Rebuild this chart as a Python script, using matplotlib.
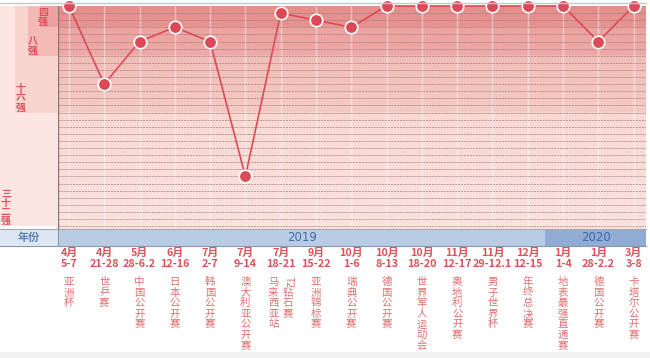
import numpy as np
import matplotlib
matplotlib.use("Agg")
import matplotlib.pyplot as plt
from matplotlib import transforms
from matplotlib.colors import to_rgb
from matplotlib.patches import Rectangle

plt.rcParams['font.family'] = ['Noto Sans CJK SC', 'DejaVu Sans']

# data
months = ['4月', '4月', '5月', '6月', '7月', '7月', '7月', '9月', '10月',
          '10月', '10月', '11月', '11月', '12月', '1月', '1月', '3月']
days = ['5-7', '21-28', '28-6.2', '12-16', '2-7', '9-14', '18-21', '15-22',
        '1-6', '8-13', '18-20', '12-17', '29-12.1', '12-15', '1-4', '28-2.2', '3-8']
events = ['亚洲杯', '世乒赛', '中国公开赛', '日本公开赛', '韩国公开赛', '澳大利亚公开赛',
          'T2钻石赛|马来西亚站', '亚洲锦标赛', '瑞典公开赛', '德国公开赛', '世界军人运动会',
          '奥地利公开赛', '男子世界杯', '年终总决赛', '地表最强直通赛', '德国公开赛', '卡塔尔公开赛']
ranks = [1, 12, 6, 4, 6, 25, 2, 3, 4, 1, 1, 1, 1, 1, 1, 6, 1]
years = ['2019', '2020']
year_counts = [14, 3]
bands = ['四强', '八强', '十六强', '三十二强']
band_ends = [4, 8, 16, 32]

W, H = 650, 358
RED = '#dc4a57'


def fy(px):
    return 1 - px / H


fig = plt.figure(figsize=(W / 100, H / 100), dpi=100)
fig.patch.set_facecolor('white')

# main plot area
ax = fig.add_axes([58 / W, fy(229), (646 - 58) / W, (229 - 5.5) / H])
x = np.arange(len(ranks))
ax.set_xlim(-0.31, 16.35)
ax.set_ylim(32.4, 0.93)

# banded background with soft gradient
stops_r = [0.93, 4, 4.01, 8, 8.01, 16, 16.01, 32.4]
stops_c = ['#e58e8c', '#e79491', '#eca3a0', '#eeaaa6', '#f2bdb7', '#f6cac4', '#f9d8d2', '#fbe2dd']
rr = np.linspace(0.93, 32.4, 400)
rgb = np.array([to_rgb(c) for c in stops_c])
grad = np.stack([np.interp(rr, stops_r, rgb[:, k]) for k in range(3)], axis=-1)[:, None, :]
ax.imshow(grad, aspect='auto', extent=[-0.31, 16.35, 32.4, 0.93], origin='upper',
          interpolation='bilinear', zorder=0)

ax.vlines(x, 0.93, 32.4, color='white', lw=1, alpha=0.45, zorder=1)
ax.hlines(np.arange(2, 33), -0.31, 16.35, color='#8c7a7a', lw=0.6,
          linestyles=(0, (2.5, 1)), alpha=0.7, zorder=2)

ax.plot(x, ranks, color=RED, lw=1.2, marker='o', ms=9, mfc=RED, mec='white',
        mew=1.2, zorder=5, clip_on=False)

ax.set_xticks([])
ax.set_yticks([])
for s in ['top', 'right', 'bottom']:
    ax.spines[s].set_visible(False)
ax.spines['left'].set_color('#8a7474')
ax.spines['left'].set_linewidth(1)

# left band labels
axl = fig.add_axes([0, fy(229), 58 / W, (229 - 5.5) / H], sharey=ax)
axl.set_xlim(0, 58)
axl.axis('off')
band_x = [40, 28, 15, 0]
band_col = ['#eda2a0', '#f3b9b4', '#f9d5cf', '#fce6e2']
lab_x = [43, 33, 21, 6]
for name, end, bx, bc, lx in reversed(list(zip(bands, band_ends, band_x, band_col, lab_x))):
    axl.add_patch(Rectangle((bx, 0.93), 58 - bx, end - 0.93, color=bc, lw=0, zorder=1))
    n = len(name)
    step = 1.41 if n < 4 else 1.3
    for k, ch in enumerate(name):
        axl.text(lx, end - 0.7 - (n - 1 - k) * step, ch, ha='center', va='center',
                 fontsize=7.2, fontweight='bold', color='#e0505e', zorder=3)

# top border
fig.add_artist(plt.Line2D([0, 646 / W], [fy(2.5), fy(2.5)], color='#c8c8c8', lw=1))

# year row
axy = fig.add_axes([58 / W, fy(246), (646 - 58) / W, 17 / H], sharex=ax)
axy.set_ylim(0, 1)
axy.axis('off')
year_col = ['#b8cce4', '#90acd4']
start = -0.31
edges = np.cumsum(year_counts) - 0.5
for i, (yr, e) in enumerate(zip(years, edges)):
    end = 16.35 if i == len(years) - 1 else e
    axy.axvspan(start, end, color=year_col[i], lw=0)
    axy.text((start + end) / 2, 0.5, yr, ha='center', va='center', fontsize=8.5,
             color='#3e6aa6', family=['DejaVu Sans'])
    start = end
fig.add_artist(Rectangle((0, fy(246)), 58 / W, 17 / H, color='#dde7f1', lw=0))
fig.text(29 / W, fy(237.5), '年份', ha='center', va='center', fontsize=8,
         fontweight='bold', color='#5a7fb0')
fig.add_artist(plt.Line2D([0, 646 / W], [fy(229), fy(229)], color='#a8a8b0', lw=0.8))
fig.add_artist(plt.Line2D([0, 646 / W], [fy(246), fy(246)], color='#8898b0', lw=0.8))
fig.add_artist(plt.Line2D([58 / W, 58 / W], [fy(246), fy(229)], color='#8898b0', lw=0.8))

# labels under the chart
tr = transforms.blended_transform_factory(ax.transData, fig.transFigure)
px_per_cat = (646 - 58) / (16.35 + 0.31)
for i in range(len(ranks)):
    ax.text(i, fy(252.5), months[i], transform=tr, ha='center', va='center',
            fontsize=7.8, fontweight='bold', color='#d9545a')
    ax.text(i, fy(264), days[i], transform=tr, ha='center', va='center',
            fontsize=7.8, fontweight='bold', color='#d9545a')
    cols = events[i].split('|')
    offs = [0.0] if len(cols) == 1 else [7.5 / px_per_cat, -7.5 / px_per_cat]
    for col, off in zip(cols, offs):
        chars = [col[:2]] + list(col[2:]) if col.startswith('T2') else list(col)
        for k, ch in enumerate(chars):
            rot = -90 if ch == 'T2' else 0
            ax.text(i + off, fy(282 + k * 10.6), ch, transform=tr, ha='center',
                    va='center', fontsize=7.5, color='#e07070', rotation=rot)

# footer strip
fig.add_artist(Rectangle((0, 0), 1, 6 / H, color='#f2f2f2', lw=0))

fig.savefig('out.png', dpi=100)
